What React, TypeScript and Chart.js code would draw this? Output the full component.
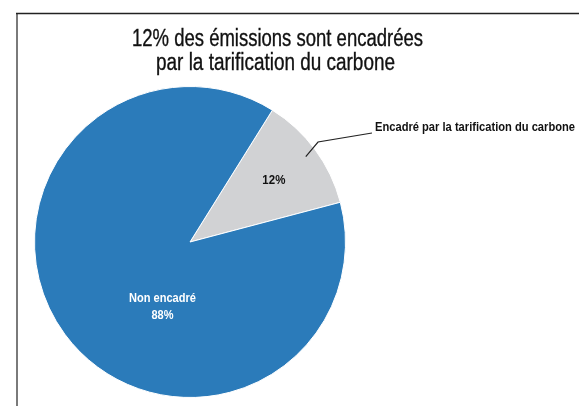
import React, { useEffect, useRef } from "react";
import { Chart, registerables } from "chart.js";

Chart.register(...registerables);

const categories = ["Encadré par la tarification du carbone", "Non encadré"];
const shares = [12, 88];
const sliceColors = ["#d1d2d4", "#2b7bba"];
const titleLines = ["12% des émissions sont encadrées", "par la tarification du carbone"];

const FONT = '"Liberation Sans", Arial, sans-serif';

const decorPlugin = {
  id: "decor",
  afterDraw(chart: any) {
    const ctx = chart.ctx as CanvasRenderingContext2D;
    const meta = chart.getDatasetMeta(0);
    ctx.save();
    // frame
    ctx.strokeStyle = "#7a7a7a";
    ctx.lineWidth = 2;
    ctx.beginPath();
    ctx.moveTo(17, 406);
    ctx.lineTo(17, 13);
    ctx.stroke();
    ctx.strokeStyle = "#222";
    ctx.lineWidth = 1.3;
    ctx.beginPath();
    ctx.moveTo(16, 13.5);
    ctx.lineTo(579, 13.5);
    ctx.stroke();

    // title
    ctx.fillStyle = "#111";
    ctx.strokeStyle = "#111";
    ctx.lineWidth = 0.35;
    ctx.textAlign = "center";
    ctx.textBaseline = "middle";
    ctx.font = `23px ${FONT}`;
    ctx.fillText(titleLines[0], 277.5, 40, 291);
    ctx.strokeText(titleLines[0], 277.5, 40, 291);
    ctx.fillText(titleLines[1], 275.5, 64, 239);
    ctx.strokeText(titleLines[1], 275.5, 64, 239);

    const a0 = meta.data[0].getProps(["x", "y", "startAngle", "endAngle", "outerRadius"], true);
    const R = a0.outerRadius;
    const cx = a0.x;
    const cy = a0.y;

    // gray slice label
    const midA = (a0.startAngle + a0.endAngle) / 2;
    ctx.font = `bold 13px ${FONT}`;
    ctx.fillStyle = "#111";
    ctx.fillText(`${shares[0]}%`, cx + Math.cos(midA) * R * 0.67, cy + Math.sin(midA) * R * 0.67, 23);

    // blue slice label
    const lx = cx - R * 0.177;
    const ly = cy + R * 0.415;
    ctx.fillStyle = "#ffffff";
    ctx.fillText(categories[1], lx, ly - 8.5, 67);
    ctx.fillText(`${shares[1]}%`, lx, ly + 8.5, 22);

    // callout for first slice
    const sx = cx + Math.cos(midA) * R * 0.925;
    const sy = cy + Math.sin(midA) * R * 0.925;
    ctx.strokeStyle = "#222";
    ctx.lineWidth = 1.2;
    ctx.beginPath();
    ctx.moveTo(sx, sy);
    ctx.lineTo(318, 142);
    ctx.lineTo(372, 133);
    ctx.stroke();
    ctx.fillStyle = "#111";
    ctx.textAlign = "left";
    ctx.font = `bold 12px ${FONT}`;
    ctx.fillText(categories[0], 375, 128, 200);
    ctx.restore();
  },
};

export default function App() {
  const ref = useRef<HTMLCanvasElement>(null);
  useEffect(() => {
    if (!ref.current) return;
    const chart = new Chart(ref.current, {
      type: "pie",
      data: {
        labels: categories,
        datasets: [
          {
            data: shares,
            backgroundColor: sliceColors,
            borderColor: "#ffffff",
            borderWidth: 1,
          },
        ],
      },
      options: {
        responsive: false,
        animation: false,
        rotation: 32,
        layout: { padding: { left: 34, right: 233, top: 86, bottom: 8 } },
        plugins: {
          legend: { display: false },
          title: { display: false },
          tooltip: { enabled: false },
        },
      },
      plugins: [decorPlugin],
    });
    return () => chart.destroy();
  }, []);
  return (
    <div style={{ position: "absolute", left: 0, top: 0, width: 579, height: 406, background: "#fff" }}>
      <canvas ref={ref} width={579} height={406} style={{ width: 579, height: 406 }} />
    </div>
  );
}
